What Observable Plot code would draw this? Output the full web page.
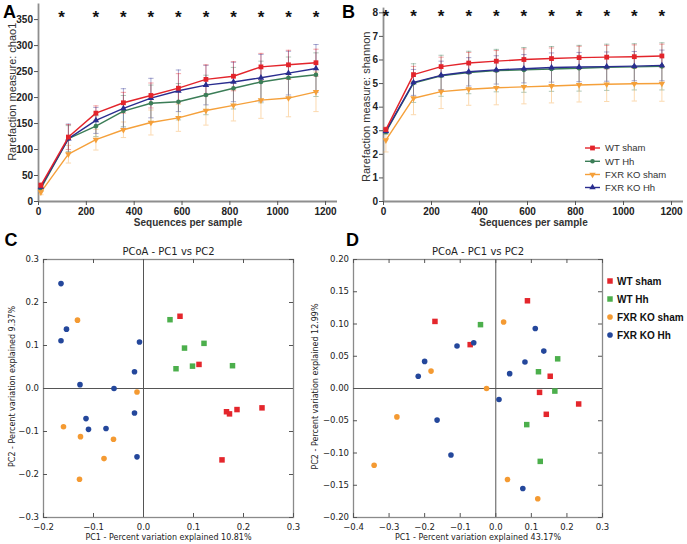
<!DOCTYPE html>
<html><head><meta charset="utf-8">
<script src="https://cdn.jsdelivr.net/npm/d3@7"></script>
<script src="https://cdn.jsdelivr.net/npm/@observablehq/plot@0.6"></script>
<style>
html,body{margin:0;padding:0;background:#fff;}
#root{position:relative;width:687px;height:544px;overflow:hidden;background:#fff;}
.panel{position:absolute;}
.panel svg{display:block;max-width:none;}
</style></head><body><div id="root"></div>
<script>
// ---------------- DATA ----------------
const groupNames = ["WT sham", "WT Hh", "FXR KO sham", "FXR KO Hh"];
const seqDepth = [10, 125, 240, 355, 470, 585, 700, 815, 930, 1045, 1160];
const xTicksRare = [0, 200, 400, 600, 800, 1000, 1200];
const yTicksChao = [0, 50, 100, 150, 200, 250, 300, 350];
const yTicksShannon = [0, 1, 2, 3, 4, 5, 6, 7, 8];

// chao1 means and SDs
const chao1WTsham   = [31, 124, 170, 190, 204, 218, 235, 241, 259, 263, 267];
const chao1WTshamSd = [5, 24, 14, 20, 24, 28, 28, 28, 26, 28, 26];
const chao1WThh     = [25, 121, 145, 174, 189, 192, 205, 218, 230, 238, 244];
const chao1WThhSd   = [5, 25, 20, 30, 35, 35, 38, 40, 40, 40, 42];
const chao1KOsham   = [18, 91, 119, 138, 152, 161, 175, 185, 195, 199, 211];
const chao1KOshamSd = [5, 17, 20, 15, 24, 26, 28, 30, 35, 36, 38];
const chao1KOhh     = [28, 121, 156, 179, 199, 213, 224, 230, 238, 247, 256];
const chao1KOhhSd   = [5, 28, 25, 38, 38, 40, 38, 38, 45, 42, 46];

// shannon means and SDs
const shWTsham   = [3.05, 5.38, 5.72, 5.87, 5.95, 6.02, 6.06, 6.10, 6.12, 6.14, 6.17];
const shWTshamSd = [0.1, 0.35, 0.4, 0.45, 0.45, 0.45, 0.45, 0.48, 0.5, 0.5, 0.5];
const shWThh     = [2.95, 5.02, 5.33, 5.47, 5.55, 5.58, 5.62, 5.65, 5.69, 5.71, 5.73];
const shWThhSd   = [0.1, 0.82, 0.87, 0.9, 0.9, 0.95, 0.95, 0.97, 0.98, 0.98, 1.0];
const shKOsham   = [2.6, 4.38, 4.66, 4.76, 4.82, 4.86, 4.9, 4.94, 4.97, 4.99, 5.0];
const shKOshamSd = [0.5, 0.7, 0.72, 0.68, 0.72, 0.72, 0.72, 0.72, 0.73, 0.73, 0.75];
const shKOhh     = [2.98, 5.05, 5.35, 5.5, 5.58, 5.63, 5.68, 5.7, 5.72, 5.74, 5.77];
const shKOhhSd   = [0.1, 0.55, 0.6, 0.6, 0.6, 0.6, 0.62, 0.62, 0.62, 0.62, 0.65];

// significance stars (x positions in sequences per sample)
const starsChao = [96, 240, 355, 470, 585, 700, 815, 930, 1045, 1160];
const starsShannon = [10, 125, 240, 355, 470, 585, 700, 815, 930, 1045, 1160];

// PCoA panel C (PC1, PC2)
const pcoaC_WTsham = [[0.073,0.168],[0.111,0.056],[0.166,-0.054],[0.172,-0.059],[0.187,-0.049],[0.237,-0.045],[0.157,-0.166]];
const pcoaC_WThh   = [[0.053,0.160],[0.082,0.094],[0.121,0.105],[0.065,0.046],[0.098,0.052],[0.178,0.053]];
const pcoaC_KOsham = [[-0.132,0.159],[-0.013,-0.008],[-0.160,-0.089],[-0.126,-0.112],[-0.060,-0.118],[-0.079,-0.163],[-0.128,-0.211]];
const pcoaC_KOhh   = [[-0.165,0.244],[-0.154,0.138],[-0.165,0.111],[-0.008,0.108],[-0.018,0.039],[-0.127,0.009],[-0.059,0.0],[-0.115,-0.070],[-0.110,-0.095],[-0.075,-0.093],[-0.018,-0.057],[-0.013,-0.159]];
const pcoaC_xTicks = [-0.2,-0.1,0,0.1,0.2,0.3];
const pcoaC_yTicks = [-0.3,-0.2,-0.1,0,0.1,0.2,0.3];

// PCoA panel D (PC1, PC2)
const pcoaD_WTsham = [[0.089,0.136],[-0.171,0.104],[-0.072,0.068],[0.153,0.019],[0.123,-0.006],[0.233,-0.024],[0.142,-0.040]];
const pcoaD_WThh   = [[-0.043,0.099],[0.174,0.046],[0.120,0.026],[0.166,-0.004],[0.087,-0.056],[0.125,-0.113]];
const pcoaD_KOsham = [[0.022,0.103],[-0.182,0.027],[-0.026,0.0],[-0.278,-0.044],[-0.342,-0.119],[0.033,-0.141],[0.118,-0.171]];
const pcoaD_KOhh   = [[0.111,0.093],[-0.062,0.071],[-0.109,0.066],[0.135,0.058],[-0.200,0.042],[0.082,0.041],[-0.218,0.019],[0.039,0.023],[0.009,-0.017],[-0.165,-0.049],[-0.126,-0.103],[0.076,-0.155]];
const pcoaD_xTicks = [-0.4,-0.3,-0.2,-0.1,0,0.1,0.2,0.3];
const pcoaD_yTicks = [-0.2,-0.15,-0.1,-0.05,0,0.05,0.1,0.15,0.2];

// ---------------- STYLE ----------------
const lineColors = {"WT sham":"#e3242b","WT Hh":"#3b7d57","FXR KO sham":"#f5a03a","FXR KO Hh":"#2a2d8f"};
const dotColors  = {"WT sham":"#e4262c","WT Hh":"#4caf4c","FXR KO sham":"#f49a32","FXR KO Hh":"#24479b"};
const rareSym = {"WT sham":["square",0,2.7],"WT Hh":["circle",0,2.3],"FXR KO sham":["triangle",180,2.4],"FXR KO Hh":["triangle",0,2.4]};
const axisGrey = "#8e8e8e";
const ARIAL = "'Liberation Sans', Arial, sans-serif";
const DEJAVU = "'DejaVu Sans', sans-serif";

const rareData = {
  chao: {"WT sham":[chao1WTsham,chao1WTshamSd],"WT Hh":[chao1WThh,chao1WThhSd],"FXR KO sham":[chao1KOsham,chao1KOshamSd],"FXR KO Hh":[chao1KOhh,chao1KOhhSd]},
  shannon: {"WT sham":[shWTsham,shWTshamSd],"WT Hh":[shWThh,shWThhSd],"FXR KO sham":[shKOsham,shKOshamSd],"FXR KO Hh":[shKOhh,shKOhhSd]}
};
const pcoaData = {
  C: {"WT sham":pcoaC_WTsham,"WT Hh":pcoaC_WThh,"FXR KO sham":pcoaC_KOsham,"FXR KO Hh":pcoaC_KOhh},
  D: {"WT sham":pcoaD_WTsham,"WT Hh":pcoaD_WThh,"FXR KO sham":pcoaD_KOsham,"FXR KO Hh":pcoaD_KOhh}
};

const capSymbol = {draw(ctx, size){ const w = Math.sqrt(size) * 0.6; ctx.moveTo(-w, 0); ctx.lineTo(w, 0); }};

const root = d3.select("#root");
function place(node, left, top, w) {
  const div = root.append("div").attr("class", "panel")
    .style("left", left + "px").style("top", top + "px").style("width", w + "px");
  div.node().appendChild(node);
}

function rarePlot({key, yDomain, yTicks, yLabel, labelDx, labelDy, stars, starY, width, marginRight, marginTop}) {
  const marks = [];
  marks.push(Plot.ruleX([0], {stroke: axisGrey, strokeWidth: 1.8}));
  marks.push(Plot.ruleY([0], {stroke: axisGrey, strokeWidth: 1.8}));
  const order = ["WT Hh", "FXR KO sham", "FXR KO Hh", "WT sham"];
  const rowsOf = g => seqDepth.map((x, i) => ({x, y: rareData[key][g][0][i], lo: rareData[key][g][0][i] - rareData[key][g][1][i], hi: rareData[key][g][0][i] + rareData[key][g][1][i]}));
  for (const g of order) {
    const d = rowsOf(g);
    const c = lineColors[g];
    marks.push(Plot.ruleX(d, {x: "x", y1: "lo", y2: "hi", stroke: c, strokeOpacity: 0.45, strokeWidth: 0.9}));
    marks.push(Plot.dot(d, {x: "x", y: "lo", symbol: capSymbol, r: 2.5, stroke: c, strokeOpacity: 0.45, fill: "none", strokeWidth: 0.9}));
    marks.push(Plot.dot(d, {x: "x", y: "hi", symbol: capSymbol, r: 2.5, stroke: c, strokeOpacity: 0.45, fill: "none", strokeWidth: 0.9}));
  }
  for (const g of order) {
    const d = rowsOf(g);
    const [sym, rot, r] = rareSym[g];
    marks.push(Plot.line(d, {x: "x", y: "y", stroke: lineColors[g], strokeWidth: 1.4}));
    marks.push(Plot.dot(d, {x: "x", y: "y", symbol: sym, rotate: rot, r, fill: lineColors[g], stroke: "none"}));
  }
  marks.push(Plot.text(stars.map(x => ({x, y: starY})), {x: "x", y: "y", text: () => "*", fontSize: 17, fontWeight: "bold", fill: "#111", dy: 4, fontFamily: ARIAL}));
  marks.push(Plot.axisX({ticks: xTicksRare, tickSize: 4, tickPadding: 2, tickFormat: d3.format("d"), fontSize: 10, fontWeight: "bold", fill: "#222", stroke: "#555", label: null, fontFamily: ARIAL}));
  marks.push(Plot.axisY({ticks: yTicks, tickSize: 4, tickPadding: 1.5, tickFormat: d3.format("d"), fontSize: 10, fontWeight: "bold", fill: "#222", stroke: "#555", label: null, fontFamily: ARIAL}));
  marks.push(Plot.text([yLabel], {frameAnchor: "left", textAnchor: "middle", lineAnchor: "middle", rotate: -90, dx: labelDx, dy: labelDy, fontSize: 11, fill: "#333", fontFamily: ARIAL}));
  marks.push(Plot.text(["Sequences per sample"], {frameAnchor: "bottom", textAnchor: "middle", lineAnchor: "middle", dy: 21.5, fontSize: 10, fontWeight: "bold", fill: "#333", fontFamily: ARIAL}));
  return Plot.plot({
    width, height: 230, marginLeft: 38, marginRight, marginTop, marginBottom: 29,
    x: {domain: [0, 1250]}, y: {domain: yDomain},
    style: {background: "none", fontFamily: ARIAL, overflow: "visible"},
    marks
  });
}

function pcoaPlot({key, xTicks, yTicks, xFmt, yFmt, width, marginLeft, marginRight, xLabel, yLabel, yLabelDx}) {
  const height = 314, marginTop = 29, marginBottom = 27;
  const fw = width - marginLeft - marginRight, fh = height - marginTop - marginBottom;
  const tickStroke = "#555";
  const marks = [
    Plot.ruleX([0], {stroke: "#555", strokeWidth: 1}),
    Plot.ruleY([0], {stroke: "#555", strokeWidth: 1}),
    Plot.frame({stroke: "#8a8a8a", strokeWidth: 1.3}),
    Plot.tickX(xTicks, {x: d => d, insetTop: fh - 4, stroke: tickStroke}),
    Plot.tickX(xTicks, {x: d => d, insetBottom: fh - 4, stroke: tickStroke}),
    Plot.tickY(yTicks, {y: d => d, insetRight: fw - 4, stroke: tickStroke}),
    Plot.tickY(yTicks, {y: d => d, insetLeft: fw - 4, stroke: tickStroke}),
    Plot.axisX({ticks: xTicks, tickSize: 0, tickPadding: 6, tickFormat: xFmt, fontSize: 8.5, fill: "#222", label: null, fontFamily: DEJAVU}),
    Plot.axisY({ticks: yTicks, tickSize: 0, tickPadding: 4.5, tickFormat: yFmt, fontSize: 8.5, fill: "#222", label: null, fontFamily: DEJAVU})
  ];
  for (const g of groupNames) {
    const pts = pcoaData[key][g];
    const isWT = g.startsWith("WT");
    marks.push(Plot.dot(pts, {x: d => d[0], y: d => d[1], symbol: isWT ? "square" : "circle", r: isWT ? 3.1 : 2.8, fill: dotColors[g], stroke: "none"}));
  }
  marks.push(Plot.text(["PCoA - PC1 vs PC2"], {frameAnchor: "top", textAnchor: "middle", lineAnchor: "middle", dy: -8, fontSize: 10, fill: "#222", fontFamily: DEJAVU}));
  marks.push(Plot.text([xLabel], {frameAnchor: "bottom", textAnchor: "middle", lineAnchor: "middle", dy: 19.5, fontSize: 8, fill: "#222", fontFamily: DEJAVU}));
  marks.push(Plot.text([yLabel], {frameAnchor: "left", textAnchor: "middle", lineAnchor: "middle", rotate: -90, dx: yLabelDx, dy: -2, fontSize: 8, fill: "#222", fontFamily: DEJAVU}));
  return Plot.plot({
    width, height, marginLeft, marginRight, marginTop, marginBottom,
    x: {domain: [xTicks[0], xTicks[xTicks.length - 1]]},
    y: {domain: [yTicks[0], yTicks[yTicks.length - 1]]},
    style: {background: "none", fontFamily: DEJAVU, overflow: "visible"},
    marks
  });
}

// Panel A
place(rarePlot({key: "chao", yDomain: [0, 380], yTicks: yTicksChao, yLabel: "Rarefaction measure: chao1",
  labelDx: -26, labelDy: -11, stars: starsChao, starY: 362, width: 345, marginRight: 8, marginTop: 3.5}), 0, 0, 345);
// Panel B
place(rarePlot({key: "shannon", yDomain: [0, 8.2], yTicks: yTicksShannon, yLabel: "Rarefaction measure: shannon",
  labelDx: -17, labelDy: 2, stars: starsShannon, starY: 8.0, width: 342, marginRight: 4, marginTop: 7.6}), 345, 0, 342);
// Panel C
place(pcoaPlot({key: "C", xTicks: pcoaC_xTicks, yTicks: pcoaC_yTicks, xFmt: d3.format(".1f"), yFmt: d3.format(".1f"),
  width: 305, marginLeft: 43, marginRight: 12, xLabel: "PC1 - Percent variation explained 10.81%",
  yLabel: "PC2 - Percent variation explained 9.37%", yLabelDx: -31.3}), 0, 230, 305);
// Panel D
place(pcoaPlot({key: "D", xTicks: pcoaD_xTicks, yTicks: pcoaD_yTicks, xFmt: d3.format(".1f"), yFmt: d3.format(".2f"),
  width: 387, marginLeft: 53, marginRight: 85, xLabel: "PC1 - Percent variation explained 43.17%",
  yLabel: "PC2 - Percent variation explained 12.99%", yLabelDx: -38}), 300, 230, 387);

// Overlay: panel letters and legends
const ov = root.append("svg").attr("width", 687).attr("height", 544)
  .style("position", "absolute").style("left", "0px").style("top", "0px").style("pointer-events", "none");
const letters = [["A", 3, 18], ["B", 342, 18], ["C", 4.5, 246], ["D", 346, 246]];
ov.selectAll("text.letter").data(letters).join("text").attr("class", "letter")
  .attr("x", d => d[1]).attr("y", d => d[2]).text(d => d[0])
  .attr("font-family", ARIAL).attr("font-weight", "bold").attr("font-size", 18).attr("fill", "#000");

// legend B (line + marker)
const legB = ov.append("g");
const legBRows = [148, 161.3, 174.5, 187.5];
groupNames.forEach((g, i) => {
  const y = legBRows[i];
  const [sym, rot, r] = rareSym[g];
  const type = sym === "square" ? d3.symbolSquare : sym === "circle" ? d3.symbolCircle : d3.symbolTriangle;
  legB.append("line").attr("x1", 585).attr("x2", 600).attr("y1", y).attr("y2", y).attr("stroke", lineColors[g]).attr("stroke-width", 1.4);
  legB.append("path").attr("d", d3.symbol(type, Math.PI * r * r)()).attr("transform", `translate(592.5,${y}) rotate(${rot})`).attr("fill", lineColors[g]);
  legB.append("text").attr("x", 605).attr("y", y).attr("dy", "0.35em").text(g)
    .attr("font-family", ARIAL).attr("font-size", 9.5).attr("fill", "#333");
});

// legend D
const legD = ov.append("g");
const legDRows = [281, 299, 317, 335];
groupNames.forEach((g, i) => {
  const y = legDRows[i];
  const isWT = g.startsWith("WT");
  legD.append("path").attr("d", d3.symbol(isWT ? d3.symbolSquare : d3.symbolCircle, isWT ? 30 : 25)())
    .attr("transform", `translate(610,${y})`).attr("fill", dotColors[g]);
  legD.append("text").attr("x", 617).attr("y", y).attr("dy", "0.35em").text(g)
    .attr("font-family", ARIAL).attr("font-weight", "bold").attr("font-size", 10).attr("fill", "#111");
});
</script></body></html>
